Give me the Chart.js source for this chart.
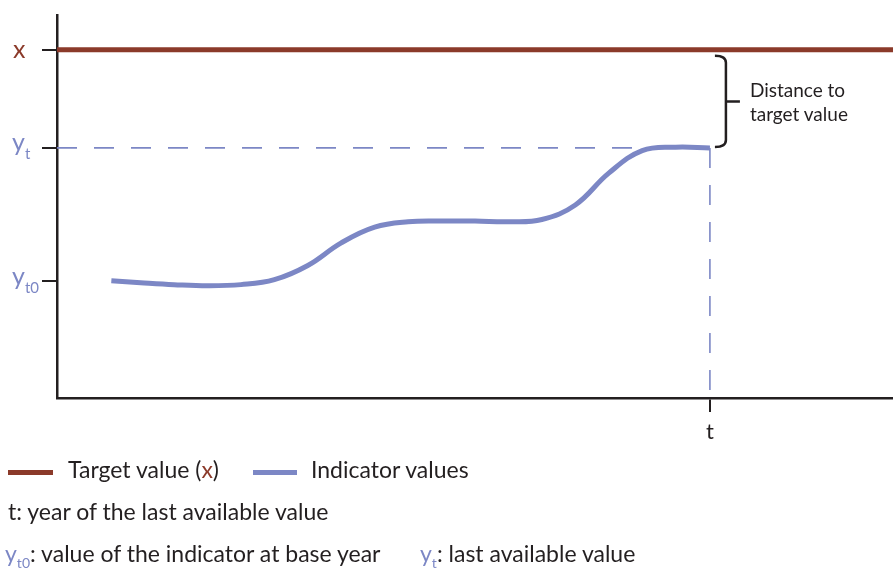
<!DOCTYPE html>
<html>
<head>
<meta charset="utf-8">
<script src="https://cdn.jsdelivr.net/npm/chart.js@4.4.1/dist/chart.umd.min.js"></script>
<style>
  body { margin: 0; background: #fff; }
  #wrap { position: relative; width: 893px; height: 571px; font-family: Lato, "Open Sans", sans-serif; color: #231f20; }
  #wrap div { position: absolute; white-space: nowrap; line-height: normal; }
  .sub { position: relative; vertical-align: baseline; }
  .brown { color: #8b3a2a; }
  .blue { color: #7c87c5; }
  .note { font-size: 23px; }
  .swatch { height: 5px; }
</style>
</head>
<body>
<div id="wrap">
  <canvas id="chart" width="893" height="571"></canvas>

  <div id="labX" class="brown" style="font-size:25px">x</div>
  <div id="labYt" class="blue" style="font-size:25px">y<span class="sub" style="font-size:15px;top:8px">t</span></div>
  <div id="labYt0" class="blue" style="font-size:25px">y<span class="sub" style="font-size:15px;top:8px">t0</span></div>
  <div id="labT" style="font-size:22px">t</div>
  <div id="labDist" style="font-size:19px;line-height:24px">Distance to<br>target value</div>

  <div class="swatch" style="left:8px;top:470px;width:45px;background:#8b3a2a"></div>
  <div class="note" style="left:68px;top:455px">Target value (<span class="brown">x</span>)</div>
  <div class="swatch" style="left:253px;top:470px;width:44px;background:#7c87c5"></div>
  <div class="note" style="left:311px;top:455px">Indicator values</div>
  <div class="note" style="left:8px;top:497px">t: year of the last available value</div>
  <div class="note" style="left:5px;top:539px"><span class="blue">y<span class="sub" style="font-size:14px;top:6px">t0</span></span>: value of the indicator at base year</div>
  <div class="note" style="left:420px;top:539px"><span class="blue">y<span class="sub" style="font-size:14px;top:6px">t</span></span>: last available value</div>
</div>

<script>
// axis ranges (arbitrary units)
var xMin = 0, xMax = 100
var yMin = 0, yMax = 100

// key values of the scheme
var targetValue = 90.9   // x
var lastValue = 65.3     // y_t
var baseValue = 30.6     // y_t0
var lastYear = 78.1      // t

// indicator path
var years = [6.5, 10, 14, 18, 22, 26, 30, 34, 38, 42, 46, 50, 54, 58, 62, 66, 70, 74, 78.1]
var indicator = [30.6, 30.1, 29.6, 29.3, 29.6, 30.9, 34.6, 40.5, 44.6, 46.0, 46.2, 46.2, 46.0, 46.6, 50.4, 58.7, 64.6, 65.5, 65.3]

var brown = '#8b3a2a'
var blue = '#7c87c5'
var ink = '#231f20'

var points = []
for (var i = 0; i < years.length; i++)
	points.push({x: years[i], y: indicator[i]})

function place(id, left, top)
{
	var el = document.getElementById(id)
	el.style.left = left + 'px'
	el.style.top = top + 'px'
}

var extras = {
	id: 'extras',
	afterDraw: function(chart)
	{
		var xs = chart.scales.x, ys = chart.scales.y
		var ctx = chart.ctx
		var px = xs.getPixelForValue(lastYear)
		var top = ys.getPixelForValue(targetValue) + 6
		var bot = ys.getPixelForValue(lastValue) - 1
		var mid = (top + bot) / 2
		var bx = px + 16

		// brace
		ctx.save()
		ctx.strokeStyle = ink
		ctx.lineWidth = 2.5
		ctx.beginPath()
		ctx.moveTo(px + 5, top)
		ctx.quadraticCurveTo(bx, top, bx, top + 7)
		ctx.lineTo(bx, bot - 7)
		ctx.quadraticCurveTo(bx, bot, px + 5, bot)
		ctx.moveTo(bx, mid)
		ctx.lineTo(bx + 14, mid)
		ctx.stroke()
		ctx.restore()

		// html labels tied to the scales
		place('labX', 13, ys.getPixelForValue(targetValue) - 17)
		place('labYt', 12, ys.getPixelForValue(lastValue) - 22)
		place('labYt0', 12, ys.getPixelForValue(baseValue) - 21)
		place('labT', px - 4, ys.bottom + 19)
		place('labDist', bx + 24, mid - 23)
	}
}

var ctx0 = document.getElementById('chart')
var myChart = new Chart(ctx0, {
	type: 'line',
	data: {
		datasets: [
			{
				data: points,
				borderColor: blue,
				borderWidth: 5,
				pointRadius: 0,
				tension: 0.4
			},
			{
				data: [{x: xMin, y: targetValue}, {x: xMax, y: targetValue}],
				borderColor: brown,
				borderWidth: 5,
				pointRadius: 0
			},
			{
				data: [{x: xMin, y: lastValue}, {x: lastYear, y: lastValue}],
				borderColor: blue,
				borderWidth: 1.6,
				borderDash: [20, 17],
				pointRadius: 0
			},
			{
				data: [{x: lastYear, y: lastValue}, {x: lastYear, y: yMin}],
				borderColor: blue,
				borderWidth: 1.6,
				borderDash: [20, 17],
				pointRadius: 0
			}
		]
	},
	options: {
		responsive: false,
		animation: false,
		layout: { padding: { left: 42, top: 15, right: 0, bottom: 159 } },
		plugins: {
			legend: { display: false },
			tooltip: { enabled: false }
		},
		scales: {
			x: {
				type: 'linear',
				min: xMin,
				max: xMax,
				afterBuildTicks: function(scale) { scale.ticks = [{value: lastYear}] },
				ticks: { display: false },
				grid: { drawOnChartArea: false, drawTicks: true, tickLength: 14, color: ink, lineWidth: 2 },
				border: { display: true, color: ink, width: 2.5 }
			},
			y: {
				type: 'linear',
				min: yMin,
				max: yMax,
				afterBuildTicks: function(scale) { scale.ticks = [{value: baseValue}, {value: lastValue}, {value: targetValue}] },
				ticks: { display: false },
				grid: { drawOnChartArea: false, drawTicks: true, tickLength: 15, color: ink, lineWidth: 2 },
				border: { display: true, color: ink, width: 2.5 }
			}
		}
	},
	plugins: [extras]
})
</script>
</body>
</html>
